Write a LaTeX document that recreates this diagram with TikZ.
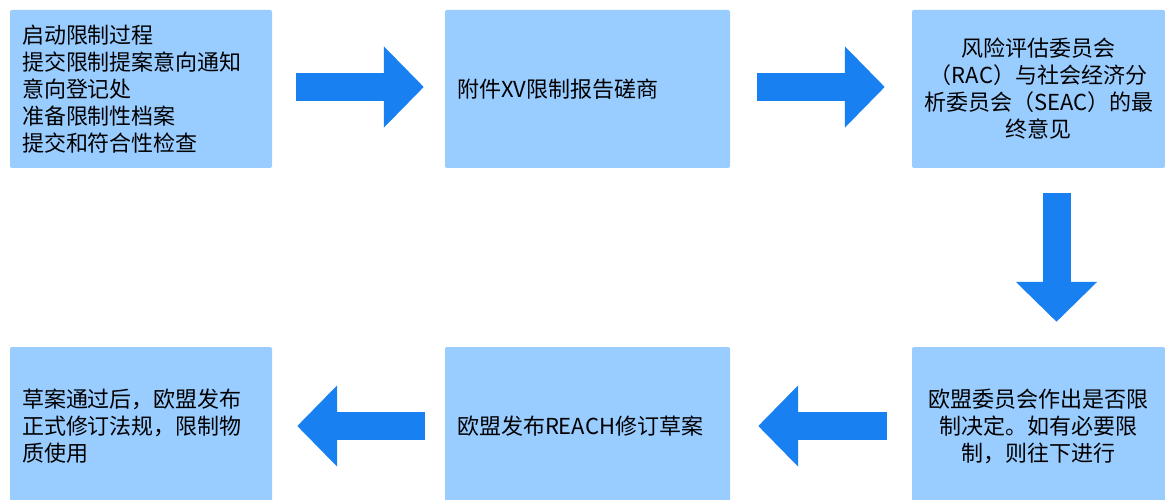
\documentclass[tikz,border=0pt]{standalone}
\usepackage{fontspec}
\newfontfamily\cjk{Noto Sans CJK SC}
\usetikzlibrary{arrows.meta}
\definecolor{boxblue}{RGB}{153,204,255}
\definecolor{arrowblue}{RGB}{24,128,240}

\begin{document}
\begin{tikzpicture}[x=1pt,y=-1pt,font=\cjk\fontsize{22}{27}\selectfont,
	box/.style={fill=boxblue,rounded corners=2pt,minimum height=158pt,inner xsep=12pt,inner ysep=0pt},
	bigarrow/.style={draw=arrowblue,line width=28pt,-{Triangle[length=40pt,width=79pt]}}]
	\useasboundingbox (0,0) rectangle (1165,500);
	\clip (0,0) rectangle (1165,500);
	% top row
	\node[box,text width=238pt,align=left] (b1) at (141,89) {启动限制过程\\提交限制提案意向通知\\意向登记处\\准备限制性档案\\提交和符合性检查};
	\node[box,text width=261pt,align=left] (b2) at (587.5,89) {附件XV限制报告磋商};
	\node[box,text width=229pt,align=center] (b3) at (1038.5,89) {风险评估委员会\\（RAC）与社会经济分\\析委员会（SEAC）的最\\终意见};
	% bottom row
	\node[box,text width=229pt,align=center] (b6) at (1038.5,426) {欧盟委员会作出是否限\\制决定。如有必要限\\制，则往下进行};
	\node[box,text width=261pt,align=left] (b5) at (587.5,426) {欧盟发布REACH修订草案};
	\node[box,text width=238pt,align=left] (b4) at (141,426) {草案通过后，欧盟发布\\正式修订法规，限制物\\质使用};
	% arrows
	\draw[bigarrow,shorten <=24pt,shorten >=21pt] ([yshift=2pt]b1.east) -- ([yshift=2pt]b2.west);
	\draw[bigarrow,shorten <=27pt,shorten >=27pt] ([yshift=2pt]b2.east) -- ([yshift=2pt]b3.west);
	\draw[bigarrow,shorten <=25pt,shorten >=25pt] ([xshift=18pt]b3.south) -- ([xshift=18pt]b6.north);
	\draw[bigarrow,shorten <=25pt,shorten >=28pt] (b6) -- (b5);
	\draw[bigarrow,shorten <=20pt,shorten >=25pt] (b5) -- (b4);
\end{tikzpicture}
\end{document}
